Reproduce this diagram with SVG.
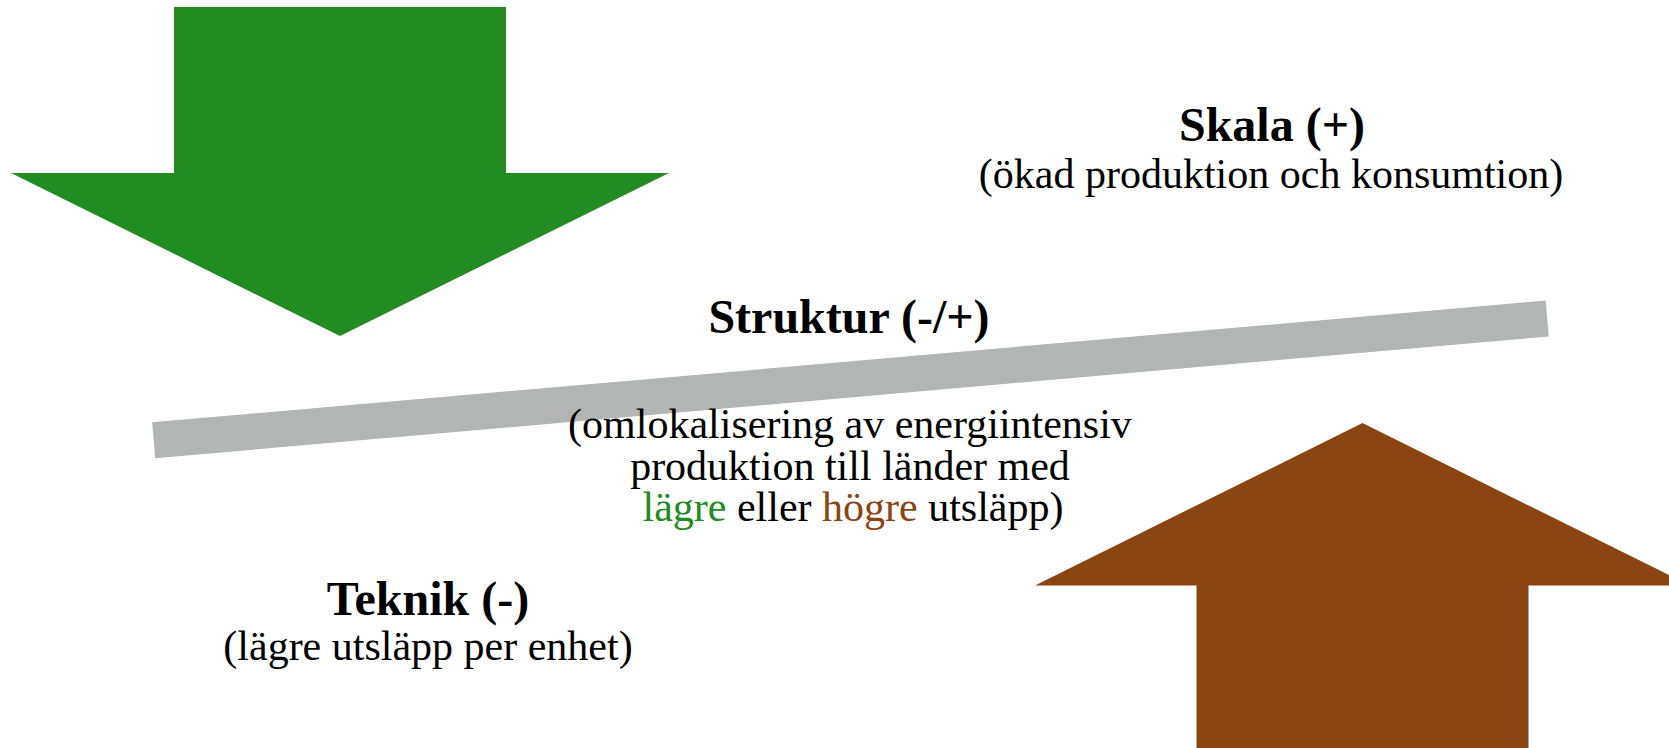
<svg xmlns="http://www.w3.org/2000/svg" width="1669" height="748" viewBox="0 0 1669 748">
<style>
.t{font-family:"Liberation Serif","Times New Roman",serif;fill:#000;text-anchor:middle}
.h{font-size:48px;font-weight:bold}
.s{font-size:42px}
.g{fill:#228B22}
.b{fill:#8B4513}
</style>
<rect width="1669" height="748" fill="#fff"/>
<g id="connectors">
<line id="balance-bar" x1="153.7" y1="440.3" x2="1547.2" y2="318.5" stroke="#B2B5B3" stroke-width="36" stroke-linecap="butt"/>
</g>
<g id="arrow-down">
<polygon points="174,7 506,7 506,173 669,173 340,336 11,173 174,173" fill="#228B22"/>
</g>
<g id="arrow-up">
<polygon points="1362.5,423 1690,585.5 1528.5,585.5 1528.5,748 1196.5,748 1196.5,585.5 1035,585.5" fill="#8B4513"/>
</g>
<g id="skala">
<text class="t h" x="1272" y="141">Skala (+)</text>
<text class="t s" x="1271" y="188">(ökad produktion och konsumtion)</text>
</g>
<g id="struktur">
<text class="t h" x="849" y="333">Struktur (-/+)</text>
<text class="t s" x="850" y="438">(omlokalisering av energiintensiv</text>
<text class="t s" x="850" y="480">produktion till länder med</text>
<text class="t s" x="853" y="521"><tspan class="g">lägre</tspan> eller <tspan class="b">högre</tspan> utsläpp)</text>
</g>
<g id="teknik">
<text class="t h" x="428" y="615">Teknik (-)</text>
<text class="t s" x="428" y="660">(lägre utsläpp per enhet)</text>
</g>
</svg>
